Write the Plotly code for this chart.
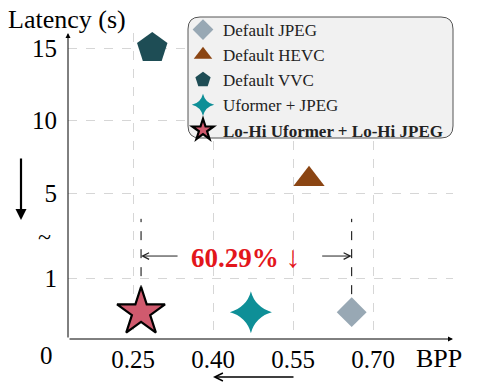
import plotly.graph_objects as go

# ---- data ----
names = ["Default JPEG", "Default HEVC", "Default VVC", "Uformer + JPEG",
         "<b>Lo-Hi Uformer + Lo-Hi JPEG</b>"]
bpp = [0.66, 0.58, 0.286, 0.471, 0.265]
latency = [0.44, 5.95, 15.0, 0.44, 0.44]
symbols = ["diamond", "triangle-up", "pentagon", "star-diamond", "star"]
colors = ["#98a8b4", "#8b4513", "#1e4d55", "#0e8f97", "#d05a6e"]
sizes = [23, 27, 32, 30, 36]
x_ticks = [0.25, 0.40, 0.55, 0.70]
x_ticklabels = ["0.25", "0.40", "0.55", "0.70"]
y_ticks = [1, 5, 10, 15]
y_ticklabels = ["1", "5", "10", "15"]
reduction_value = "60.29%"
reduction_arrow = "↓"
ref_idx, ours_idx = 0, 4

# broken latency axis: 0-1 linear, then 5-16 compressed
def ydisp(v):
    if v <= 1.5:
        return v
    return 2.393 + (v - 5) * 0.2377

FONT = "Liberation Serif"
W, H = 482, 386
ML, MR, MT, MB = 68, 29, 33, 47
PW, PH = W - ML - MR, H - MT - MB

def px2paper_x(px):
    return (px - ML) / PW

def px2paper_y(py):
    return (H - MB - py) / PH

fig = go.Figure()
for i in range(len(names)):
    fig.add_trace(go.Scatter(
        x=[bpp[i]], y=[ydisp(latency[i])], mode="markers", name=names[i],
        cliponaxis=False,
        marker=dict(symbol=symbols[i], size=sizes[i], color=colors[i],
                    line=dict(color="black", width=2.2 if i == ours_idx else 0)),
    ))

# rounded legend box
x0, x1 = px2paper_x(188), px2paper_x(453)
y0, y1 = px2paper_y(138), px2paper_y(17)
rx, ry = 12 / PW, 12 / PH
path = (f"M{x0+rx},{y1} L{x1-rx},{y1} Q{x1},{y1} {x1},{y1-ry} "
        f"L{x1},{y0+ry} Q{x1},{y0} {x1-rx},{y0} L{x0+rx},{y0} "
        f"Q{x0},{y0} {x0},{y0+ry} L{x0},{y1-ry} Q{x0},{y1} {x0+rx},{y1} Z")
shapes = [dict(type="path", path=path, xref="paper", yref="paper",
               fillcolor="#f1f1f1", line=dict(color="#555555", width=1),
               layer="above")]

# dashed bracket lines
bracket_top = 1.97
for idx in (ours_idx, ref_idx):
    shapes.append(dict(type="line", x0=bpp[idx], x1=bpp[idx],
                       y0=ydisp(latency[idx]), y1=bracket_top,
                       xref="x", yref="y", layer="below",
                       line=dict(color="black", width=1, dash="dash")))

arrow_y = 1.36
mid_x = (bpp[ours_idx] + bpp[ref_idx]) / 2

def label(px, py, text, size):
    return dict(x=px2paper_x(px), y=px2paper_y(py), xref="paper", yref="paper",
                xanchor="center", yanchor="middle", text=text, showarrow=False,
                font=dict(family=FONT, size=size, color="black"))

annotations = [
    # axes with arrowheads
    dict(x=1, y=0, xref="paper", yref="paper", ax=-PW, ay=0, text="",
         showarrow=True, arrowhead=2, arrowsize=1, arrowwidth=1, arrowcolor="black", standoff=0),
    dict(x=0, y=1, xref="paper", yref="paper", ax=0, ay=PH, text="",
         showarrow=True, arrowhead=2, arrowsize=1, arrowwidth=1, arrowcolor="black", standoff=0),
    # bracket arrows
    dict(x=bpp[ours_idx], y=arrow_y, xref="x", yref="y", ax=38, ay=0, text="",
         showarrow=True, arrowhead=5, arrowsize=1.3, arrowwidth=1, arrowcolor="#222", standoff=0),
    dict(x=bpp[ref_idx], y=arrow_y, xref="x", yref="y", ax=-31, ay=0, text="",
         showarrow=True, arrowhead=5, arrowsize=1.3, arrowwidth=1, arrowcolor="#222", standoff=0),
    dict(x=mid_x, y=arrow_y, xref="x", yref="y", xanchor="center", yanchor="middle",
         text=f"<b>{reduction_value}</b> <span style='font-size:30px'>{reduction_arrow}</span>",
         showarrow=False, font=dict(family=FONT, size=27, color="#e3161b")),
    # direction arrows
    dict(x=px2paper_x(213), y=px2paper_y(377), xref="paper", yref="paper", ax=82, ay=0,
         text="", showarrow=True, arrowhead=5, arrowsize=1, arrowwidth=1.6,
         arrowcolor="black", standoff=0),
    dict(x=px2paper_x(21), y=px2paper_y(220), xref="paper", yref="paper", ax=0, ay=-63,
         text="", showarrow=True, arrowhead=2, arrowsize=1, arrowwidth=2.2,
         arrowcolor="black", standoff=0),
    # labels
    label(67, 20, "Latency (s)", 26),
    label(439, 358, "BPP", 26),
    label(46, 355, "0", 25),
    label(44, 237, "~", 24),
]

grid = dict(showgrid=True, gridcolor="#d6d6d6", gridwidth=1, griddash="dash",
            zeroline=False, showline=False, ticks="",
            tickfont=dict(family=FONT, size=25, color="black"))

fig.update_layout(
    width=W, height=H,
    margin=dict(l=ML, r=MR, t=MT, b=MB, pad=0),
    paper_bgcolor="white", plot_bgcolor="white",
    xaxis=dict(range=[0.128, 0.85], tickvals=x_ticks, ticktext=x_ticklabels,
               ticklabelstandoff=3, **grid),
    yaxis=dict(range=[0, PH / 61], tickvals=[ydisp(v) for v in y_ticks],
               ticktext=y_ticklabels, ticklabelstandoff=10, **grid),
    legend=dict(x=px2paper_x(183), y=px2paper_y(12), xanchor="left", yanchor="top",
                bgcolor="rgba(0,0,0,0)", borderwidth=0,
                font=dict(family=FONT, size=17, color="#222")),
    shapes=shapes, annotations=annotations,
)

fig.write_html("out.html", config={"displayModeBar": False},
               post_script="document.body.style.margin='0';document.body.style.padding='0';")
